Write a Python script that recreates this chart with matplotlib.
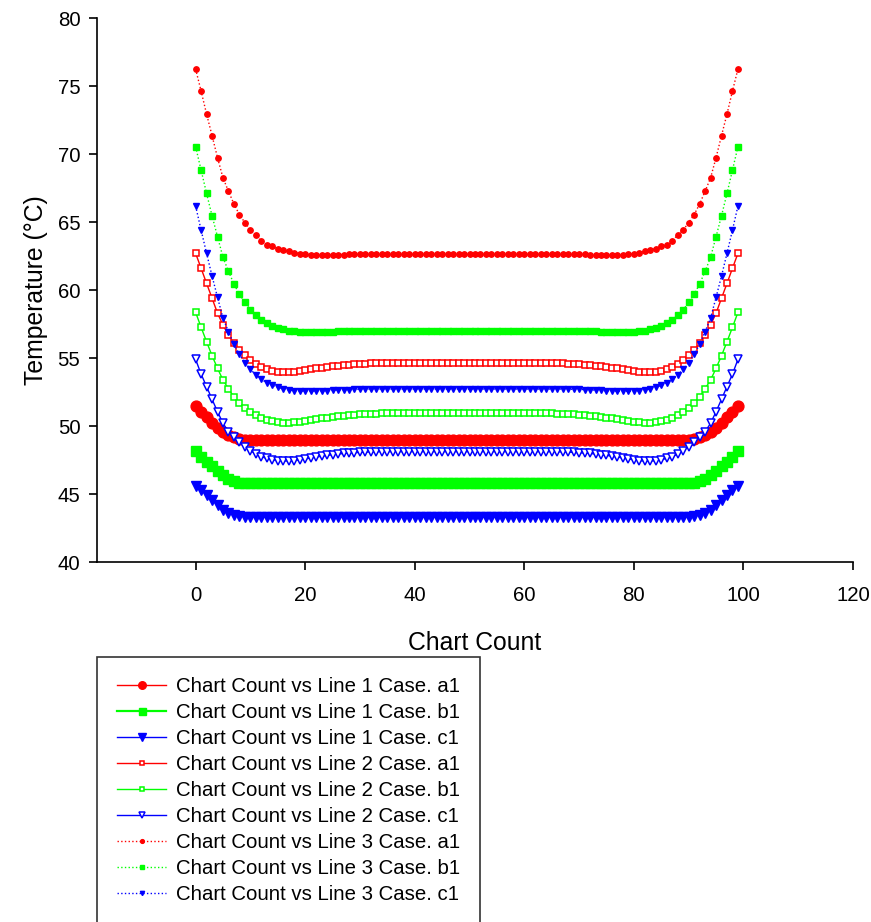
import matplotlib
matplotlib.use("Agg")
import matplotlib.pyplot as plt

plt.rcParams['font.family'] = ['Liberation Sans', 'DejaVu Sans']

x_count = list(range(100))

line1_a1 = [51.47, 51.05, 50.64, 50.24, 49.85, 49.53, 49.31, 49.17, 49.04, 48.98,
            48.96, 48.96, 48.96, 48.96, 48.96, 48.96, 48.96, 48.96, 48.96, 48.96,
            48.96, 48.96, 48.96, 48.96, 48.96, 48.96, 48.96, 48.96, 48.96, 48.96,
            48.96, 48.96, 48.96, 48.96, 48.96, 48.96, 48.96, 48.96, 48.96, 48.96,
            48.96, 48.96, 48.96, 48.96, 48.96, 48.96, 48.96, 48.96, 48.96, 48.96,
            48.96, 48.96, 48.96, 48.96, 48.96, 48.96, 48.96, 48.96, 48.96, 48.96,
            48.96, 48.96, 48.96, 48.96, 48.96, 48.96, 48.96, 48.96, 48.96, 48.96,
            48.96, 48.96, 48.96, 48.96, 48.96, 48.96, 48.96, 48.96, 48.96, 48.96,
            48.96, 48.96, 48.96, 48.96, 48.96, 48.96, 48.96, 48.96, 48.96, 48.96,
            48.98, 49.04, 49.17, 49.31, 49.53, 49.85, 50.24, 50.64, 51.05, 51.47]

line1_b1 = [48.19, 47.75, 47.38, 47.04, 46.69, 46.37, 46.13, 45.96, 45.83, 45.79,
            45.78, 45.78, 45.78, 45.78, 45.78, 45.78, 45.78, 45.78, 45.78, 45.78,
            45.78, 45.78, 45.78, 45.78, 45.78, 45.78, 45.78, 45.78, 45.78, 45.78,
            45.78, 45.78, 45.78, 45.78, 45.78, 45.78, 45.78, 45.78, 45.78, 45.78,
            45.78, 45.78, 45.78, 45.78, 45.78, 45.78, 45.78, 45.78, 45.78, 45.78,
            45.78, 45.78, 45.78, 45.78, 45.78, 45.78, 45.78, 45.78, 45.78, 45.78,
            45.78, 45.78, 45.78, 45.78, 45.78, 45.78, 45.78, 45.78, 45.78, 45.78,
            45.78, 45.78, 45.78, 45.78, 45.78, 45.78, 45.78, 45.78, 45.78, 45.78,
            45.78, 45.78, 45.78, 45.78, 45.78, 45.78, 45.78, 45.78, 45.78, 45.78,
            45.79, 45.83, 45.96, 46.13, 46.37, 46.69, 47.04, 47.38, 47.75, 48.19]

line1_c1 = [45.59, 45.29, 44.93, 44.56, 44.19, 43.82, 43.58, 43.46, 43.38, 43.33,
            43.31, 43.30, 43.30, 43.30, 43.30, 43.30, 43.30, 43.30, 43.30, 43.30,
            43.30, 43.30, 43.30, 43.30, 43.30, 43.30, 43.30, 43.30, 43.30, 43.30,
            43.30, 43.30, 43.30, 43.30, 43.30, 43.30, 43.30, 43.30, 43.30, 43.30,
            43.30, 43.30, 43.30, 43.30, 43.30, 43.30, 43.30, 43.30, 43.30, 43.30,
            43.30, 43.30, 43.30, 43.30, 43.30, 43.30, 43.30, 43.30, 43.30, 43.30,
            43.30, 43.30, 43.30, 43.30, 43.30, 43.30, 43.30, 43.30, 43.30, 43.30,
            43.30, 43.30, 43.30, 43.30, 43.30, 43.30, 43.30, 43.30, 43.30, 43.30,
            43.30, 43.30, 43.30, 43.30, 43.30, 43.30, 43.30, 43.30, 43.30, 43.31,
            43.33, 43.38, 43.46, 43.58, 43.82, 44.19, 44.56, 44.93, 45.29, 45.59]

line2_a1 = [62.70, 61.60, 60.49, 59.40, 58.29, 57.43, 56.67, 56.08, 55.59, 55.20,
            54.85, 54.58, 54.36, 54.21, 54.07, 54.00, 53.97, 53.97, 53.99, 54.07,
            54.12, 54.18, 54.24, 54.30, 54.35, 54.40, 54.44, 54.48, 54.51, 54.54,
            54.56, 54.58, 54.60, 54.61, 54.62, 54.62, 54.62, 54.62, 54.62, 54.62,
            54.62, 54.62, 54.62, 54.62, 54.62, 54.62, 54.62, 54.62, 54.62, 54.62,
            54.62, 54.62, 54.62, 54.62, 54.62, 54.62, 54.62, 54.62, 54.62, 54.62,
            54.62, 54.62, 54.62, 54.62, 54.62, 54.62, 54.61, 54.60, 54.58, 54.56,
            54.54, 54.51, 54.48, 54.44, 54.40, 54.35, 54.30, 54.24, 54.18, 54.12,
            54.07, 53.99, 53.97, 53.97, 54.00, 54.07, 54.21, 54.36, 54.58, 54.85,
            55.20, 55.59, 56.08, 56.67, 57.43, 58.29, 59.40, 60.49, 61.60, 62.70]

line2_b1 = [58.36, 57.26, 56.20, 55.17, 54.24, 53.38, 52.74, 52.13, 51.67, 51.32,
            51.03, 50.81, 50.61, 50.44, 50.34, 50.27, 50.24, 50.24, 50.27, 50.31,
            50.37, 50.43, 50.50, 50.56, 50.62, 50.67, 50.72, 50.76, 50.80, 50.83,
            50.86, 50.88, 50.90, 50.91, 50.92, 50.93, 50.93, 50.93, 50.93, 50.93,
            50.93, 50.93, 50.93, 50.93, 50.93, 50.93, 50.93, 50.93, 50.93, 50.93,
            50.93, 50.93, 50.93, 50.93, 50.93, 50.93, 50.93, 50.93, 50.93, 50.93,
            50.93, 50.93, 50.93, 50.93, 50.93, 50.92, 50.91, 50.90, 50.88, 50.86,
            50.83, 50.80, 50.76, 50.72, 50.67, 50.62, 50.56, 50.50, 50.43, 50.37,
            50.31, 50.27, 50.24, 50.24, 50.27, 50.34, 50.44, 50.61, 50.81, 51.03,
            51.32, 51.67, 52.13, 52.74, 53.38, 54.24, 55.17, 56.20, 57.26, 58.36]

line2_c1 = [54.90, 53.82, 52.90, 51.97, 51.05, 50.20, 49.58, 49.17, 48.80, 48.48,
            48.19, 47.94, 47.74, 47.62, 47.52, 47.45, 47.43, 47.43, 47.45, 47.52,
            47.58, 47.65, 47.72, 47.78, 47.84, 47.89, 47.94, 47.98, 48.01, 48.04,
            48.06, 48.08, 48.10, 48.11, 48.12, 48.12, 48.12, 48.12, 48.12, 48.12,
            48.12, 48.12, 48.12, 48.12, 48.12, 48.12, 48.12, 48.12, 48.12, 48.12,
            48.12, 48.12, 48.12, 48.12, 48.12, 48.12, 48.12, 48.12, 48.12, 48.12,
            48.12, 48.12, 48.12, 48.12, 48.12, 48.12, 48.11, 48.10, 48.08, 48.06,
            48.04, 48.01, 47.98, 47.94, 47.89, 47.84, 47.78, 47.72, 47.65, 47.58,
            47.52, 47.45, 47.43, 47.43, 47.45, 47.52, 47.62, 47.74, 47.94, 48.19,
            48.48, 48.80, 49.17, 49.58, 50.20, 51.05, 51.97, 52.90, 53.82, 54.90]

line3_a1 = [76.25, 74.63, 72.94, 71.35, 69.73, 68.24, 67.26, 66.32, 65.54, 64.95,
            64.41, 64.04, 63.62, 63.33, 63.21, 63.04, 62.94, 62.84, 62.75, 62.68,
            62.62, 62.57, 62.55, 62.55, 62.56, 62.58, 62.60, 62.61, 62.62, 62.62,
            62.63, 62.63, 62.63, 62.63, 62.63, 62.63, 62.63, 62.63, 62.63, 62.63,
            62.63, 62.63, 62.63, 62.63, 62.63, 62.63, 62.63, 62.63, 62.63, 62.63,
            62.63, 62.63, 62.63, 62.63, 62.63, 62.63, 62.63, 62.63, 62.63, 62.63,
            62.63, 62.63, 62.63, 62.63, 62.63, 62.63, 62.63, 62.63, 62.63, 62.63,
            62.62, 62.62, 62.61, 62.60, 62.58, 62.56, 62.55, 62.55, 62.57, 62.62,
            62.68, 62.75, 62.84, 62.94, 63.04, 63.21, 63.33, 63.62, 64.04, 64.41,
            64.95, 65.54, 66.32, 67.26, 68.24, 69.73, 71.35, 72.94, 74.63, 76.25]

line3_b1 = [70.54, 68.82, 67.10, 65.46, 63.92, 62.40, 61.37, 60.44, 59.68, 59.10,
            58.53, 58.14, 57.80, 57.55, 57.35, 57.20, 57.10, 57.02, 56.97, 56.94,
            56.92, 56.91, 56.91, 56.92, 56.93, 56.94, 56.95, 56.96, 56.97, 56.98,
            56.98, 56.99, 56.99, 57.00, 57.00, 57.00, 57.00, 57.00, 57.00, 57.00,
            57.00, 57.00, 57.00, 57.00, 57.00, 57.00, 57.00, 57.00, 57.00, 57.00,
            57.00, 57.00, 57.00, 57.00, 57.00, 57.00, 57.00, 57.00, 57.00, 57.00,
            57.00, 57.00, 57.00, 57.00, 57.00, 57.00, 57.00, 56.99, 56.99, 56.98,
            56.98, 56.97, 56.96, 56.95, 56.94, 56.93, 56.92, 56.91, 56.91, 56.92,
            56.94, 56.97, 57.02, 57.10, 57.20, 57.35, 57.55, 57.80, 58.14, 58.53,
            59.10, 59.68, 60.44, 61.37, 62.40, 63.92, 65.46, 67.10, 68.82, 70.54]

line3_c1 = [66.18, 64.41, 62.70, 61.03, 59.46, 57.92, 56.94, 56.00, 55.27, 54.66,
            54.17, 53.75, 53.43, 53.18, 52.99, 52.84, 52.72, 52.65, 52.60, 52.57,
            52.56, 52.56, 52.57, 52.58, 52.60, 52.62, 52.64, 52.66, 52.68, 52.69,
            52.70, 52.71, 52.72, 52.72, 52.72, 52.72, 52.72, 52.72, 52.72, 52.72,
            52.72, 52.72, 52.72, 52.72, 52.72, 52.72, 52.72, 52.72, 52.72, 52.72,
            52.72, 52.72, 52.72, 52.72, 52.72, 52.72, 52.72, 52.72, 52.72, 52.72,
            52.72, 52.72, 52.72, 52.72, 52.72, 52.72, 52.72, 52.72, 52.71, 52.70,
            52.69, 52.68, 52.66, 52.64, 52.62, 52.60, 52.58, 52.57, 52.56, 52.56,
            52.57, 52.60, 52.65, 52.72, 52.84, 52.99, 53.18, 53.43, 53.75, 54.17,
            54.66, 55.27, 56.00, 56.94, 57.92, 59.46, 61.03, 62.70, 64.41, 66.18]

labels = ["Chart Count vs Line 1 Case. a1", "Chart Count vs Line 1 Case. b1",
          "Chart Count vs Line 1 Case. c1", "Chart Count vs Line 2 Case. a1",
          "Chart Count vs Line 2 Case. b1", "Chart Count vs Line 2 Case. c1",
          "Chart Count vs Line 3 Case. a1", "Chart Count vs Line 3 Case. b1",
          "Chart Count vs Line 3 Case. c1"]

x_ticks = [0, 20, 40, 60, 80, 100, 120]
y_ticks = [40, 45, 50, 55, 60, 65, 70, 75, 80]

RED, GREEN, BLUE = "#FF0000", "#00FF00", "#0000FF"

fig = plt.figure(figsize=(8.71, 9.22), dpi=100)
ax = fig.add_axes([97/871, 1 - 562/922, (853-97)/871, (562-18)/922])

series = [
    (line1_a1, dict(color=RED, lw=1.0, ls='-', marker='o', ms=7.8, mfc=RED, mec=RED)),
    (line1_b1, dict(color=GREEN, lw=1.6, ls='-', marker='s', ms=7.2, mfc=GREEN, mec=GREEN)),
    (line1_c1, dict(color=BLUE, lw=1.0, ls='-', marker='v', ms=7.8, mfc=BLUE, mec=BLUE)),
    (line2_a1, dict(color=RED, lw=1.0, ls='-', marker='s', ms=4.6, mfc='white', mec=RED, mew=1.1)),
    (line2_b1, dict(color=GREEN, lw=1.0, ls='-', marker='s', ms=4.6, mfc='white', mec=GREEN, mew=1.1)),
    (line2_c1, dict(color=BLUE, lw=1.0, ls='-', marker='v', ms=5.2, mfc='white', mec=BLUE, mew=1.1)),
    (line3_a1, dict(color=RED, lw=1.0, ls=':', marker='o', ms=3.9, mfc=RED, mec=RED)),
    (line3_b1, dict(color=GREEN, lw=1.0, ls=':', marker='s', ms=3.9, mfc=GREEN, mec=GREEN)),
    (line3_c1, dict(color=BLUE, lw=1.0, ls=':', marker='v', ms=4.4, mfc=BLUE, mec=BLUE)),
]

handles = []
for (vals, kw), lab in zip(series, labels):
    h, = ax.plot(x_count, vals, label=lab, **kw)
    handles.append(h)

ax.set_xlim(-18, 120)
ax.set_ylim(40, 80)
ax.set_xticks(x_ticks)
ax.set_yticks(y_ticks)
for s in ['top', 'right']:
    ax.spines[s].set_visible(False)
for s in ['left', 'bottom']:
    ax.spines[s].set_linewidth(1.2)
ax.tick_params(direction='out', length=5.5, width=1.2, labelsize=14.7)
ax.tick_params(axis='x', pad=12)
ax.tick_params(axis='y', pad=6.5)
ax.set_xlabel("Chart Count", fontsize=17.8, labelpad=18.5)
ax.set_ylabel("Temperature (°C)", fontsize=17.8, labelpad=7)

leg = fig.legend(handles=handles, labels=labels, loc='upper left',
                 bbox_to_anchor=(97/871, 1 - 657/922), fontsize=14.7,
                 frameon=True, fancybox=False, edgecolor='black',
                 handlelength=2.4, handletextpad=0.45, labelspacing=0.34,
                 borderpad=1.0, borderaxespad=0.0, markerscale=0.7)
leg.get_frame().set_linewidth(1.2)

fig.savefig("out.png", dpi=100)
